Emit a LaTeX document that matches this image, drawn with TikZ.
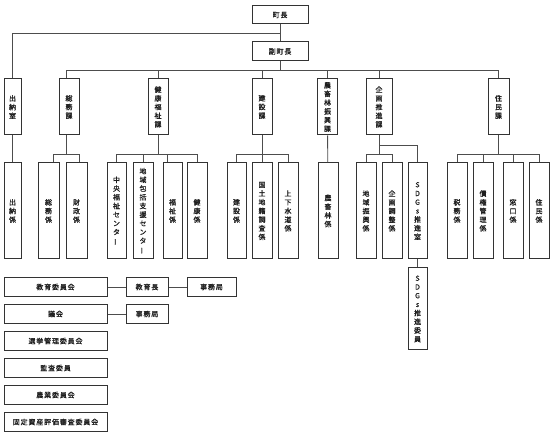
\documentclass[tikz,border=0pt]{standalone}
\usepackage{fontspec}
\newfontfamily\jp[LetterSpace=12,FakeBold=1]{Noto Sans CJK JP}
\definecolor{ink}{HTML}{1E1E1E}
\definecolor{rule}{HTML}{333333}
\definecolor{wire}{HTML}{4D4D4D}
\newcommand\chouon{\rotatebox[origin=c]{90}{ー}}
\begin{document}
\begin{tikzpicture}[x=1pt,y=-1pt,every node/.style={font=\jp\fontsize{7}{8.7}\selectfont,text=ink,inner sep=0pt,align=center},box/.style={draw=rule,line width=1pt,fill=white},ka/.style={box,minimum width=20pt,minimum height=56pt},kakari/.style={box,minimum width=20pt,minimum height=96pt},iinkai/.style={box,minimum width=103pt,minimum height=19.5pt},link/.style={wire,line width=.9pt}]
\useasboundingbox (0,0) rectangle (550,433);
\coordinate (top) at (0,33);\coordinate (mid) at (0,70);\coordinate (low) at (0,154);\coordinate (sdg) at (0,145);
\node[box,minimum width=56pt,minimum height=18pt] (chou) at (280,15){町長};\node[box,minimum width=56pt,minimum height=19pt] (fukuchou) at (280,51.5){副町長};
\node[ka,minimum width=17pt] (suitoushitsu) at (12.5,107){出\\納\\室};\node[ka] (soumuka) at (69,107){総\\務\\課};\node[ka] (kenkoufukushika) at (158,107){健\\康\\福\\祉\\課};\node[ka] (kensetsuka) at (262,107){建\\設\\課};
\node[ka] (nouchikurinka) at (327.5,107){農\\畜\\林\\振\\興\\課};\node[ka,minimum width=26pt] (kikakuka) at (379,107){企\\画\\推\\進\\課};\node[ka,minimum width=21pt] (juuminka) at (498.5,107){住\\民\\課};
\node[kakari,minimum width=17pt] (suitoukakari) at (12.5,211){出\\納\\係};\node[kakari,minimum width=21pt] (soumukakari) at (48.5,211){総\\務\\係};\node[kakari,minimum width=21pt] (zaiseikakari) at (76.5,211){財\\政\\係};
\node[kakari,minimum width=19pt] (chuoufukushi) at (116.5,211){中\\央\\福\\祉\\セ\\ン\\タ\\\chouon};\node[kakari] (chiikihoukatsu) at (143,211){地\\域\\包\\括\\支\\援\\セ\\ン\\タ\\\chouon};\node[kakari,minimum width=19pt] (fukushikakari) at (172.5,211){福\\祉\\係};\node[kakari] (kenkoukakari) at (197,211){健\\康\\係};
\node[kakari,minimum width=19pt] (kensetsukakari) at (236.5,211){建\\設\\係};\node[kakari] (kokudochiseki) at (262,211){国\\土\\地\\籍\\調\\査\\係};\node[kakari] (jougesuidou) at (288,211){上\\下\\水\\道\\係};\node[kakari] (nouchikurinkakari) at (328,211){農\\畜\\林\\係};
\node[kakari] (chiikishinkou) at (366,211){地\\域\\振\\興\\係};\node[kakari] (kikakuchousei) at (392,211){企\\画\\調\\整\\係};\node[kakari,minimum width=19pt] (sdgsshitsu) at (417.5,211){S\\D\\G\\s\\推\\進\\室};
\node[kakari] (zeimukakari) at (457,211){税\\務\\係};\node[kakari] (saikenkanri) at (483,211){債\\権\\管\\理\\係};\node[kakari] (madoguchi) at (513,211){窓\\口\\係};\node[kakari] (juuminkakari) at (539,211){住\\民\\係};
\node[box,minimum width=19pt,minimum height=82pt] (sdgsiin) at (417.5,309){S\\D\\G\\s\\推\\進\\委\\員};
\node[iinkai] (kyouikuiinkai) at (55.5,287){教育委員会};\node[box,minimum width=42pt,minimum height=19.5pt] (kyouikuchou) at (147,287){教育長};\node[box,minimum width=49pt,minimum height=19.5pt] (jimukyokuA) at (211.5,287){事務局};
\node[iinkai] (gikai) at (55.5,314){議会};\node[box,minimum width=42pt,minimum height=19.5pt] (jimukyokuB) at (147,314){事務局};
\node[iinkai] (senkyo) at (55.5,341){選挙管理委員会};\node[iinkai] (kansa) at (55.5,368){監査委員};\node[iinkai] (nougyou) at (55.5,395){農業委員会};\node[iinkai] (kotei) at (55.5,422){固定資産評価審査委員会};
\draw[link] (chou)--(fukuchou);\draw[link] (suitoushitsu.north)|-(chou.south|-top);\draw[link] (fukuchou.south)--(fukuchou.south|-mid);
\draw[link] ([xshift=-3pt]soumuka.north)|-(juuminka.north|-mid)--(juuminka.north);\foreach \n in {kenkoufukushika,kensetsuka,nouchikurinka,kikakuka}\draw[link] (\n.north)--(\n.north|-mid);
\draw[link] (suitoushitsu)--(suitoukakari);\draw[link] (nouchikurinka)--(nouchikurinkakari);\draw[link] (sdgsshitsu)--(sdgsiin);
\draw[link] ([xshift=-3pt]soumuka.south)--([xshift=-3pt]soumuka.south|-low);\draw[link] ([xshift=4.5pt]soumukakari.north)|-([xshift=2.5pt]zaiseikakari.north|-low)--([xshift=2.5pt]zaiseikakari.north);
\draw[link] (kenkoufukushika)--(kenkoufukushika.south|-low);\draw[link] (chuoufukushi.north|-low)--(kenkoukakari.north|-low);\draw[link] ([xshift=-5pt]fukushikakari.north)--([xshift=-5pt]fukushikakari.north|-low);
\foreach \n in {chuoufukushi,chiikihoukatsu,kenkoukakari}\draw[link] (\n.north)--(\n.north|-low);
\draw[link] (kensetsuka)--(kensetsuka.south|-low);\draw[link] (kensetsukakari.north|-low)--(jougesuidou.north|-low);\foreach \n in {kensetsukakari,kokudochiseki,jougesuidou}\draw[link] (\n.north)--(\n.north|-low);
\draw[link] (kikakuka)--(kikakuka.south|-low);\draw[link] (chiikishinkou.north|-low)--(kikakuchousei.north|-low);\foreach \n in {chiikishinkou,kikakuchousei}\draw[link] (\n.north)--(\n.north|-low);\draw[link] (kikakuka.south|-sdg)-|(sdgsshitsu.north);
\draw[link] (juuminka)--(juuminka.south|-low);\draw[link] (zeimukakari.north|-low)--(juuminkakari.north|-low);\foreach \n in {zeimukakari,saikenkanri,madoguchi,juuminkakari}\draw[link] (\n.north)--(\n.north|-low);
\draw[link] (kyouikuiinkai)--(kyouikuchou);\draw[link] (kyouikuchou)--(jimukyokuA);\draw[link] (gikai)--(jimukyokuB);
\end{tikzpicture}
\end{document}
